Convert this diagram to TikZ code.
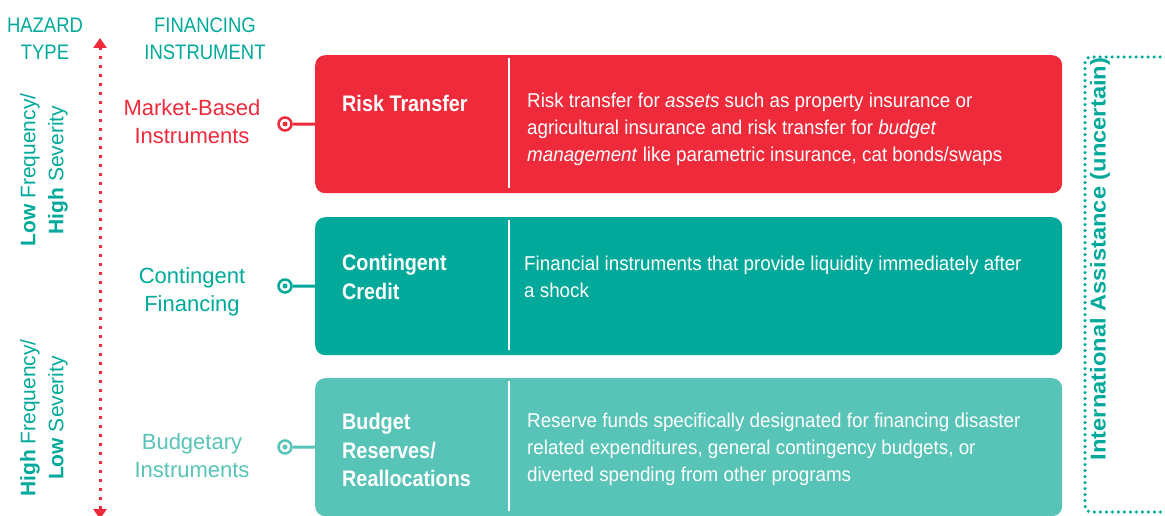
\documentclass[tikz,border=0pt]{standalone}
\usepackage{fontspec}
\setmainfont{Liberation Sans}
\newfontfamily\condfont{Liberation Sans}[FakeStretch=0.88]
\newfontfamily\descfont{Liberation Sans}[FakeStretch=0.94]
\newfontfamily\iafont{Liberation Sans}[FakeStretch=1.1]
\usetikzlibrary{arrows.meta}
\definecolor{hred}{HTML}{EE2A3B}
\definecolor{hteal}{HTML}{00A99A}
\definecolor{hlight}{HTML}{58C3B7}
\begin{document}
\begin{tikzpicture}[x=1pt,y=-1pt,
  panel/.style={fill=#1, draw=none, rounded corners=10pt, minimum width=747pt, minimum height=138pt, anchor=north west, inner sep=0pt},
  divider/.style={draw=white, line width=1.5pt},
  ttl/.style={text=white, font=\condfont\fontsize{22.5}{28.5}\selectfont\bfseries, align=left, anchor=west, inner sep=0pt},
  desc/.style={text=white, font=\descfont\fontsize{20}{27}\selectfont, align=left, anchor=west, inner sep=0pt},
  lab/.style={text=#1, font=\fontsize{22}{28}\selectfont, align=center, inner sep=0pt},
  hdr/.style={text=hteal, font=\condfont\fontsize{21}{27}\selectfont, align=center, inner sep=0pt},
  side/.style={text=hteal, font=\fontsize{21}{28}\selectfont, align=center, rotate=90, inner sep=0pt},
  pin/.style={circle, draw=#1, fill=white, line width=2.5pt, inner sep=0pt, minimum size=13pt},
  conn/.style={draw=#1, line width=3pt}
]
\useasboundingbox (0,0) rectangle (1165,516);

% headings
\node[hdr] (hz) at (45,39) {HAZARD\\TYPE};
\node[hdr] (fi) at (205,39) {FINANCING\\INSTRUMENT};

% vertical dotted arrow
\coordinate (atop) at (100,38);
\coordinate (abot) at (100,519);
\draw[hred, line width=3pt, dash pattern=on 3pt off 6pt,
  {Triangle[width=13pt,length=10pt]}-{Triangle[width=13pt,length=10pt]}] (atop) -- (abot);

% side labels
\node[side] (lf) at (44,170) {\textbf{Low} Frequency/\\\textbf{High} Severity};
\node[side] (hf) at (44,418) {\textbf{High} Frequency/\\\textbf{Low} Severity};

% panels
\node[panel=hred] (p1) at (315,55) {};
\node[panel=hteal] (p2) at (315,217) {};
\node[panel=hlight] (p3) at (315,378) {};

\draw[divider] ([xshift=194pt,yshift=-3pt]p1.north west) -- ([xshift=194pt,yshift=5pt]p1.south west);
\draw[divider] ([xshift=194pt,yshift=-3pt]p2.north west) -- ([xshift=194pt,yshift=5pt]p2.south west);
\draw[divider] ([xshift=194pt,yshift=-3pt]p3.north west) -- ([xshift=194pt,yshift=5pt]p3.south west);

% titles
\node[ttl] (t1) at (342,103) {Risk Transfer};
\node[ttl] (t2) at (342,277) {Contingent\\Credit};
\node[ttl] (t3) at (342,450) {Budget\\Reserves/\\Reallocations};

% descriptions
\node[desc] (d1) at (527,129) {Risk transfer for \textit{assets} such as property insurance or\\agricultural insurance and risk transfer for \textit{budget}\\\textit{management} like parametric insurance, cat bonds/swaps};
\node[desc] (d2) at (524,276.5) {Financial instruments that provide liquidity immediately after\\a shock};
\node[desc] (d3) at (527,449) {Reserve funds specifically designated for financing disaster\\related expenditures, general contingency budgets, or\\diverted spending from other programs};

% left labels
\node[lab=hred] (l1) at (192,122) {Market-Based\\Instruments};
\node[lab=hteal] (l2) at (192,292) {Contingent\\Financing};
\node[lab=hlight] (l3) at (192,456) {Budgetary\\Instruments};

% pins and connectors
\node[pin=hred] (c1) at (285,124) {};
\node[pin=hteal] (c2) at (285,286) {};
\node[pin=hlight] (c3) at (285,447) {};
\draw[conn=hred] (c1) -- (p1.west);
\draw[conn=hteal] (c2) -- (p2.west);
\draw[conn=hlight] (c3) -- (p3.west);
\fill[hred] (c1) circle (2.5pt);
\fill[hteal] (c2) circle (2.5pt);
\fill[hlight] (c3) circle (2.5pt);

% international assistance bracket
\coordinate (b1) at (1172,57);
\coordinate (b2) at (1085,57);
\coordinate (b3) at (1085,512);
\coordinate (b4) at (1172,512);
\draw[hteal, line width=3.5pt, line cap=round, dash pattern=on 0pt off 6pt, rounded corners=6pt] (b1) -- (b2) -- (b3) -- (b4);
\node[side, font=\iafont\fontsize{21.5}{24}\selectfont\bfseries] (ia) at (1100,259) {International Assistance (uncertain)};
\end{tikzpicture}
\end{document}
